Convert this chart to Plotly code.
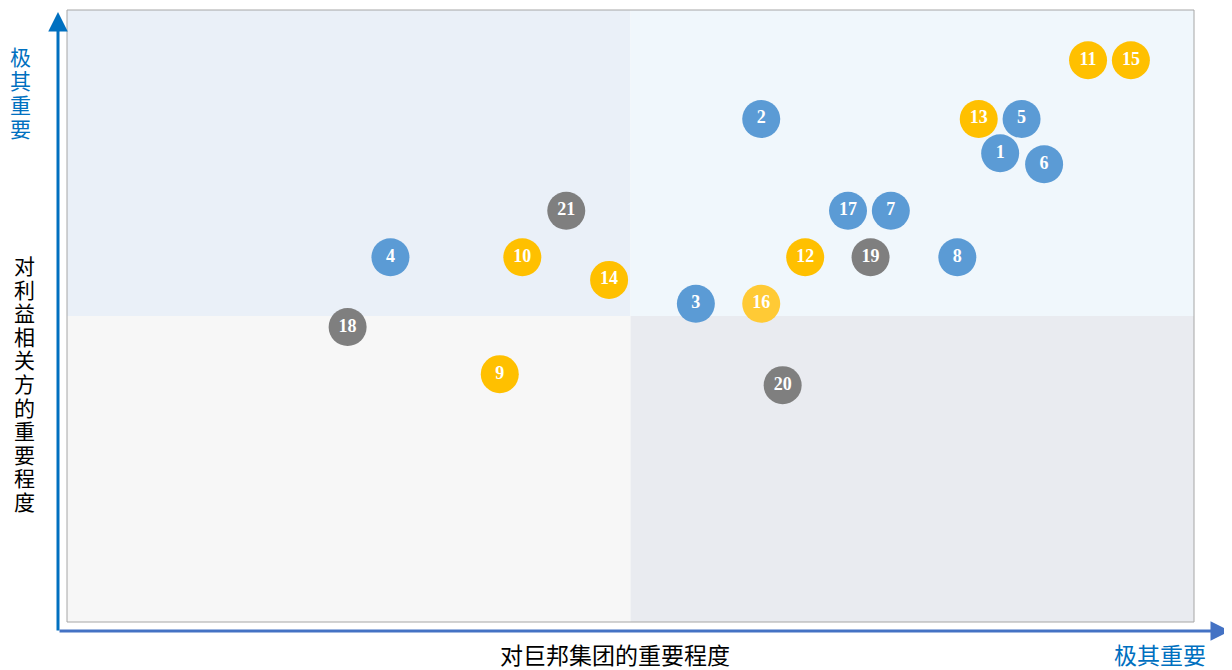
import plotly.graph_objects as go

ids = [str(i) for i in range(1, 22)]
x_vals = [8.28, 6.16, 5.58, 2.87, 8.47, 8.67, 7.31, 7.90, 3.84, 4.04, 9.06,
          6.55, 8.09, 4.81, 9.44, 6.16, 6.93, 2.49, 7.13, 6.35, 4.43]
y_vals = [7.66, 8.22, 5.20, 5.96, 8.22, 7.48, 6.72, 5.96, 4.05, 5.96, 9.18,
          5.96, 8.22, 5.59, 9.18, 5.20, 6.72, 4.82, 5.96, 3.87, 6.72]
groups = ["b", "b", "b", "b", "b", "b", "b", "b", "o", "o", "o",
          "o", "o", "o", "o", "o2", "b", "g", "g", "g", "g"]
group_colors = {"b": "#5B9BD5", "o": "#FFC000", "o2": "#FFCA35", "g": "#7F7F7F"}

x_title = "对巨邦集团的重要程度"
y_title = "对利益相关方的重要程度"
high_label = "极其重要"

# page is drawn with an 8px body margin; figure origin is at (8, 8)
OFF = 8
W, H = 1232 - OFF, 670 - OFF
PL, PR, PT, PB = 67, 1194, 10, 622  # plot area in page pixels

fig = go.Figure()

quads = [(0, 5, 5, 10, "#EAF0F8"), (5, 10, 5, 10, "#F0F7FC"),
         (0, 5, 0, 5, "#F7F7F7"), (5, 10, 0, 5, "#E9EBF0")]
for x0, x1, y0, y1, c in quads:
    fig.add_shape(type="rect", xref="x", yref="y", x0=x0, x1=x1, y0=y0, y1=y1,
                  fillcolor=c, line=dict(width=0), layer="below")
fig.add_shape(type="rect", xref="paper", yref="paper", x0=0, x1=1, y0=0, y1=1,
              line=dict(color="#A6A6A6", width=1), layer="above")

fig.add_trace(go.Scatter(
    x=x_vals, y=y_vals, mode="markers+text", text=ids,
    marker=dict(size=38, color=[group_colors[g] for g in groups], line=dict(width=0)),
    textfont=dict(family="Liberation Serif", size=18, color="white", weight="bold"),
    textposition="middle center", hoverinfo="skip", cliponaxis=False,
))


def px_to_paper(px, py):
    return (px - PL) / (PR - PL), (PB - py) / (PB - PT)


# axis arrows
xp, yp = px_to_paper(58, 12)
fig.add_annotation(xref="paper", yref="paper", x=xp, y=yp, ax=0, ay=620,
                   axref="pixel", ayref="pixel", showarrow=True, arrowhead=2,
                   arrowsize=1.3, arrowwidth=3, arrowcolor="#0070C0", text="")
xp, yp = px_to_paper(1230, 631)
fig.add_annotation(xref="paper", yref="paper", x=xp, y=yp, ax=-1172, ay=0,
                   axref="pixel", ayref="pixel", showarrow=True, arrowhead=2,
                   arrowsize=1.3, arrowwidth=3, arrowcolor="#4472C4", text="")

cjk = "Noto Sans CJK SC"
common = dict(xref="paper", yref="paper", showarrow=False, xanchor="center",
              yanchor="middle", borderpad=0)
# vertical blue label top-left
for i, ch in enumerate(high_label):
    xp, yp = px_to_paper(20, 56 + i * 24)
    fig.add_annotation(x=xp, y=yp, text=ch,
                       font=dict(family=cjk, size=21, color="#0070C0"), **common)
# vertical black title
for i, ch in enumerate(y_title):
    xp, yp = px_to_paper(24, 265 + i * 23.6)
    fig.add_annotation(x=xp, y=yp, text=ch,
                       font=dict(family=cjk, size=21, color="black"), **common)
xp, yp = px_to_paper(615, 654)
fig.add_annotation(x=xp, y=yp, text=x_title,
                   font=dict(family=cjk, size=23, color="black"), **common)
xp, yp = px_to_paper(1160, 654)
fig.add_annotation(x=xp, y=yp, text=high_label,
                   font=dict(family=cjk, size=23, color="#0070C0"), **common)

fig.update_xaxes(range=[0, 10], visible=False, fixedrange=True)
fig.update_yaxes(range=[0, 10], visible=False, fixedrange=True)
fig.update_layout(width=W, height=H,
                  margin=dict(l=PL - OFF, r=W - (PR - OFF), t=PT - OFF, b=H - (PB - OFF)),
                  plot_bgcolor="white", paper_bgcolor="white", showlegend=False)
fig.write_html("out.html")
